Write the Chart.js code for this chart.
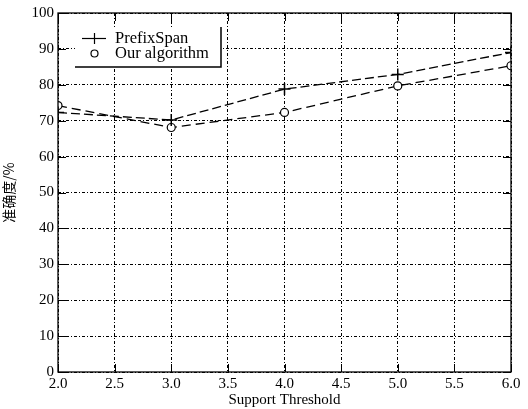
<!DOCTYPE html>
<html><head><meta charset="utf-8">
<script src="https://cdn.jsdelivr.net/npm/chart.js@4/dist/chart.umd.min.js"></script>
<style>html,body{margin:0;padding:0;background:#fff;}#wrap{width:528px;height:409px;}</style>
</head><body><div id="wrap"><canvas id="c" width="528" height="409"></canvas></div>
<script>
const supportThresholds = [2.0, 3.0, 4.0, 5.0, 6.0];
const prefixSpanValues = [72.3, 70.2, 78.8, 82.9, 89.0];
const ourAlgorithmValues = [74.2, 68.1, 72.3, 79.7, 85.3];
const seriesNames = ['PrefixSpan', 'Our algorithm'];
const xTitle = 'Support Threshold';
const yTitle = '准确度/%';

const serif = '"Liberation Serif", "DejaVu Serif", serif';

const frameAndLegend = {
  id: 'frameAndLegend',
  afterDraw(chart) {
    const ctx = chart.ctx, a = chart.chartArea;
    const xs = chart.scales.x, ys = chart.scales.y;
    ctx.save();
    ctx.strokeStyle = '#000';
    ctx.lineWidth = 1.3;
    ctx.setLineDash([]);
    ctx.strokeRect(a.left, a.top, a.right - a.left, a.bottom - a.top);
    ctx.lineWidth = 1;
    xs.ticks.forEach(t => {
      const px = Math.round(xs.getPixelForValue(t.value)) + 0.5;
      ctx.beginPath(); ctx.moveTo(px, a.bottom); ctx.lineTo(px, a.bottom - 8); ctx.stroke();
      ctx.beginPath(); ctx.moveTo(px, a.top); ctx.lineTo(px, a.top + 8); ctx.stroke();
    });
    ys.ticks.forEach(t => {
      const py = Math.round(ys.getPixelForValue(t.value)) + 0.5;
      ctx.beginPath(); ctx.moveTo(a.left, py); ctx.lineTo(a.left + 8, py); ctx.stroke();
      ctx.beginPath(); ctx.moveTo(a.right, py); ctx.lineTo(a.right - 8, py); ctx.stroke();
    });
    // legend
    const L = 75, T = 27, R = 221, B = 67;
    ctx.fillStyle = '#fff';
    ctx.fillRect(L, T, R - L, B - T);
    ctx.lineWidth = 1.5;
    ctx.beginPath(); ctx.moveTo(L, B); ctx.lineTo(R, B); ctx.lineTo(R, T); ctx.stroke();
    ctx.font = '16.5px ' + serif;
    ctx.fillStyle = '#000';
    ctx.textBaseline = 'middle';
    const ds = chart.data.datasets;
    ctx.lineWidth = 1.2;
    ctx.beginPath(); ctx.moveTo(82, 38.5); ctx.lineTo(106, 38.5); ctx.stroke();
    ctx.beginPath(); ctx.moveTo(94.5, 33); ctx.lineTo(94.5, 44); ctx.stroke();
    ctx.fillText(ds[0].label, 115, 39);
    ctx.beginPath(); ctx.arc(94.5, 53.5, 3.5, 0, Math.PI * 2); ctx.stroke();
    ctx.fillText(ds[1].label, 115, 54);
    ctx.restore();
  }
};

new Chart(document.getElementById('c'), {
  type: 'line',
  data: {
    datasets: [
      {
        label: seriesNames[0],
        data: supportThresholds.map((x, i) => ({x, y: prefixSpanValues[i]})),
        borderColor: '#000', borderWidth: 1.3, borderDash: [9, 4],
        pointStyle: 'cross', pointRadius: 6, pointBorderWidth: 1.5,
        pointBorderColor: '#000', fill: false, tension: 0
      },
      {
        label: seriesNames[1],
        data: supportThresholds.map((x, i) => ({x, y: ourAlgorithmValues[i]})),
        borderColor: '#000', borderWidth: 1.3, borderDash: [9, 5],
        pointStyle: 'circle', pointRadius: 4, pointBorderWidth: 1.2,
        pointBackgroundColor: '#fff', pointBorderColor: '#000', fill: false, tension: 0
      }
    ]
  },
  options: {
    responsive: false, animation: false,
    layout: { padding: { top: 12, right: 17, left: 0, bottom: 0 } },
    plugins: { legend: { display: false }, tooltip: { enabled: false } },
    scales: {
      x: {
        type: 'linear', min: 2, max: 6,
        border: { display: false, dash: [3, 2, 1, 2] },
        grid: { color: '#000', lineWidth: 1, drawTicks: false, tickLength: 0 },
        ticks: { stepSize: 0.5, color: '#000', padding: 3, maxRotation: 0,
                 font: { family: serif, size: 15 },
                 callback: v => Number(v).toFixed(1) },
        title: { display: true, text: xTitle, color: '#000', padding: 0,
                 font: { family: serif, size: 15 } },
        afterFit: s => { s.height = 37; }
      },
      y: {
        min: 0, max: 100,
        border: { display: false, dash: [3, 2, 1, 2] },
        grid: { color: '#000', lineWidth: 1, drawTicks: false, tickLength: 0 },
        ticks: { stepSize: 10, color: '#000', padding: 4,
                 font: { family: serif, size: 15 } },
        title: { display: true, text: yTitle, color: '#000', padding: 0,
                 font: { family: '"Noto Sans CJK SC", sans-serif', size: 14 } },
        afterFit: s => { s.width = 58; }
      }
    }
  },
  plugins: [frameAndLegend]
});
</script></body></html>
